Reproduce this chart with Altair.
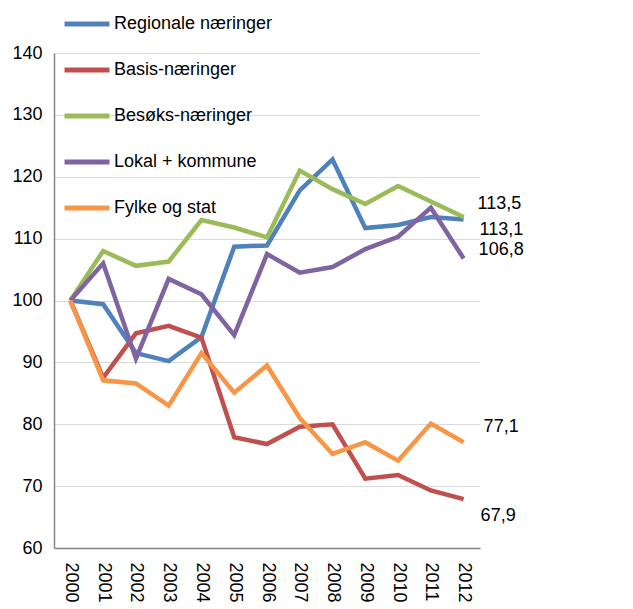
import altair as alt
import pandas as pd

years = [str(y) for y in range(2000, 2013)]
series_names = ["Regionale næringer", "Basis-næringer", "Besøks-næringer",
                "Lokal + kommune", "Fylke og stat"]

regionale = [100, 99.4, 91.5, 90.2, 94.1, 108.7, 108.9, 117.8, 122.8, 111.7, 112.2, 113.5, 113.1]
basis = [100, 87.5, 94.7, 95.9, 94.0, 77.9, 76.8, 79.6, 80.0, 71.2, 71.8, 69.3, 67.9]
besoks = [100, 108.0, 105.6, 106.3, 113.0, 111.8, 110.2, 121.0, 118.0, 115.6, 118.5, 116.0, 113.5]
lokal = [100, 106.0, 90.6, 103.5, 101.0, 94.4, 107.5, 104.5, 105.4, 108.3, 110.3, 115.0, 106.8]
fylke = [100, 87.1, 86.6, 83.0, 91.5, 85.1, 89.5, 81.0, 75.2, 77.1, 74.1, 80.1, 77.1]

all_values = [regionale, basis, besoks, lokal, fylke]
colors = ["#4F81BD", "#C0504D", "#9BBB59", "#8064A2", "#F79646"]

# style: label offsets (px) for end labels
label_offsets = {
    "Regionale næringer": (16, 11),
    "Basis-næringer": (17, 17),
    "Besøks-næringer": (14, -13),
    "Lokal + kommune": (15, -8),
    "Fylke og stat": (20, -15),
}

rows = []
for name, vals in zip(series_names, all_values):
    for yr, v in zip(years, vals):
        rows.append({"year": yr, "value": v, "series": name})
df = pd.DataFrame(rows)

x_enc = alt.X("year:O", title=None,
              axis=alt.Axis(labelAngle=90, labelAlign="left", labelBaseline="middle",
                            labelFontSize=18, labelPadding=14, ticks=False,
                            domainColor="#868686", domainWidth=1.5, grid=False),
              scale=alt.Scale(domain=years))
y_enc = alt.Y("value:Q", title=None,
              scale=alt.Scale(domain=[60, 140], nice=False, zero=False),
              axis=alt.Axis(values=list(range(60, 141, 10)), ticks=False, labelFontSize=18,
                            labelPadding=12, domainColor="#868686", domainWidth=1.5,
                            grid=True, gridColor="#D9D9D9", gridWidth=1))

lines = alt.Chart(df).mark_line(strokeWidth=4.5, strokeJoin="miter").encode(
    x=x_enc,
    y=y_enc,
    color=alt.Color("series:N", sort=series_names,
                    scale=alt.Scale(domain=series_names, range=colors),
                    legend=alt.Legend(orient="none", legendX=8, legendY=-54, title=None,
                                      symbolType="stroke", symbolSize=2025,
                                      symbolStrokeWidth=5, labelFontSize=18,
                                      labelOffset=2, rowPadding=11, padding=0)),
    detail="series:N",
)

layers = [lines]
for name, vals, col in zip(series_names, all_values, colors):
    last = pd.DataFrame([{"year": years[-1], "value": vals[-1],
                          "label": f"{vals[-1]:.1f}".replace(".", ",")}])
    dx, dy = label_offsets[name]
    layers.append(
        alt.Chart(last).mark_text(align="left", baseline="middle", dx=dx, dy=dy,
                                  fontSize=18, color="#000000").encode(
            x=alt.X("year:O", scale=alt.Scale(domain=years)),
            y=alt.Y("value:Q"),
            text="label:N",
        )
    )

chart = alt.layer(*layers).properties(
    width=426, height=495,
    autosize=alt.AutoSizeParams(type="none"),
    padding={"left": 46, "top": 45, "right": 110, "bottom": 60},
).configure(font="Liberation Sans").configure_view(stroke=None).configure_axis(
    labelColor="#000000", labelFont="Liberation Sans"
).configure_legend(labelColor="#000000", labelFont="Liberation Sans")

chart.save("out.html", embed_options={"renderer": "svg", "actions": False})
